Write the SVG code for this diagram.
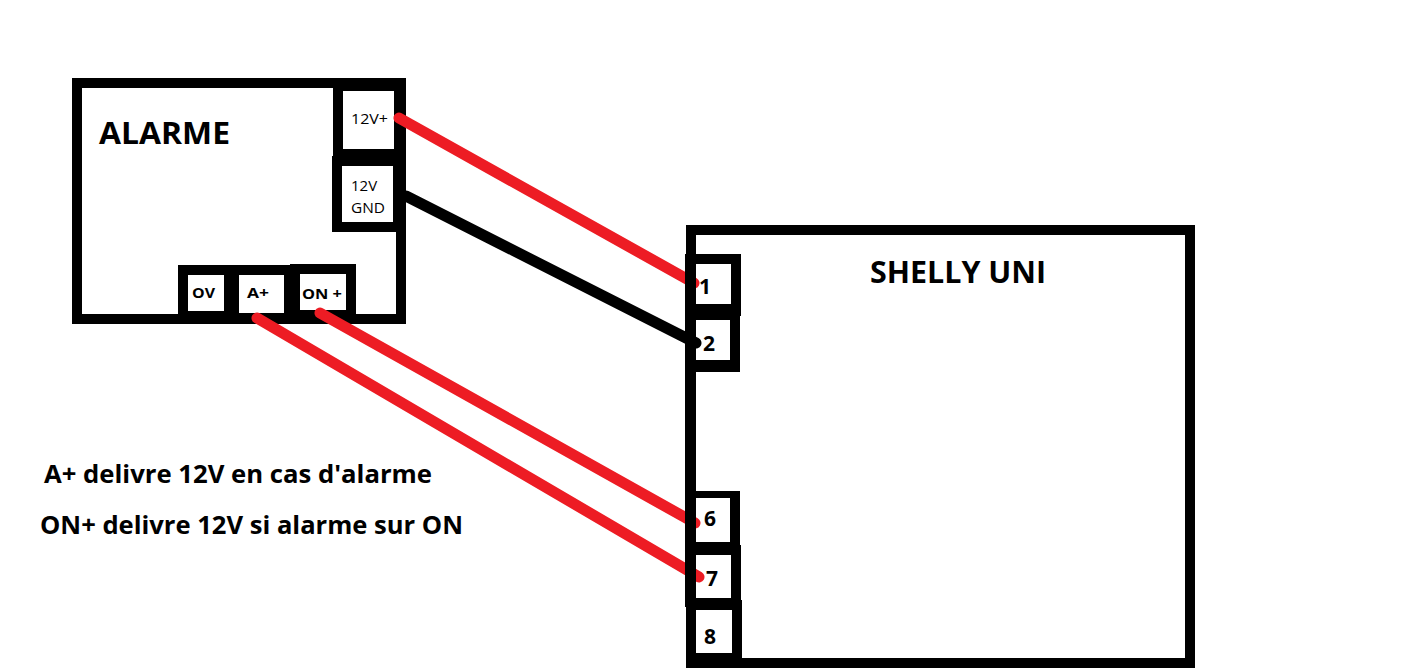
<svg xmlns="http://www.w3.org/2000/svg" width="1416" height="672" viewBox="0 0 1416 672">
<style>
.f{fill:#000;fill-rule:evenodd}
.w{fill:#fff}
text{font-family:"Open Sans","Noto Sans","Liberation Sans",sans-serif;fill:#000}
.b{font-weight:700}
.r{stroke:#ed1c24;stroke-width:11;stroke-linecap:round;fill:none}
.k{stroke:#000;stroke-width:11;stroke-linecap:round;fill:none}
</style>
<rect width="1416" height="672" fill="#fff"/>
<g id="alarme">
<rect class="f" x="72" y="78" width="334" height="246"/><rect class="w" x="82" y="88" width="314" height="226"/>
<text class="b" x="99" y="144" font-size="31" textLength="131" lengthAdjust="spacingAndGlyphs">ALARME</text>
</g>
<g id="shelly">
<rect class="f" x="686" y="225" width="509" height="443"/><rect class="w" x="696" y="235" width="489" height="423"/>
<text class="b" x="870" y="283" font-size="30" textLength="176" lengthAdjust="spacingAndGlyphs">SHELLY UNI</text>
</g>
<g id="t12vp"><rect class="f" x="333" y="78" width="73" height="78"/><rect class="w" x="343" y="91" width="51" height="58"/><text x="351" y="124" font-size="15" textLength="37" lengthAdjust="spacingAndGlyphs">12V+</text></g>
<g id="t12vg"><rect class="f" x="332" y="156" width="74" height="76"/><rect class="w" x="342" y="166" width="51" height="56"/><text x="351" y="191" font-size="15">12V</text><text x="351" y="213" font-size="15" textLength="34" lengthAdjust="spacingAndGlyphs">GND</text></g>
<g id="tov"><rect class="f" x="178" y="265" width="112" height="59"/><rect class="w" x="188" y="275" width="36" height="36"/><text class="b" x="192" y="298" font-size="14.5" textLength="23" lengthAdjust="spacingAndGlyphs">OV</text></g>
<g id="ta"><rect class="w" x="239" y="275" width="45" height="38"/><text class="b" x="247" y="298" font-size="14.5" textLength="22" lengthAdjust="spacingAndGlyphs">A+</text></g>
<g id="ton"><rect class="f" x="290" y="264" width="66" height="60"/><rect class="w" x="300" y="274" width="46" height="36"/><text class="b" x="302" y="299" font-size="14.5" textLength="40" lengthAdjust="spacingAndGlyphs">ON +</text></g>
<g id="p1"><rect class="f" x="696" y="254" width="45" height="62"/><rect class="w" x="696" y="264" width="35" height="40"/></g>
<g id="p2"><rect class="f" x="696" y="310" width="44" height="62"/><rect class="w" x="696" y="320" width="34" height="40"/></g>
<g id="p6"><rect class="f" x="696" y="491" width="44" height="60"/><rect class="w" x="696" y="498" width="34" height="44"/></g>
<g id="p7"><rect class="f" x="696" y="545" width="45" height="62"/><rect class="w" x="696" y="555" width="35" height="43"/></g>
<g id="p8"><rect class="f" x="696" y="600" width="46" height="68"/><rect class="w" x="696" y="610" width="36" height="43"/></g>
<g id="connectors">
<path class="r" d="M399 118L694 283"/>
<path class="k" d="M406 196L696 343"/>
<path class="r" d="M320 313L695 523"/>
<path class="r" d="M257 318L699 577"/>
</g>
<g id="shelly-edge"><rect class="f" x="685" y="254" width="11" height="353"/></g>
<g id="pin-labels">
<text class="b" x="699" y="294" font-size="21">1</text>
<text class="b" x="703" y="351" font-size="21">2</text>
<text class="b" x="704" y="526" font-size="21">6</text>
<text class="b" x="706" y="586" font-size="21">7</text>
<text class="b" x="704" y="644" font-size="21">8</text>
</g>
<g id="notes">
<text class="b" x="44" y="483" font-size="25.5" textLength="388" lengthAdjust="spacingAndGlyphs">A+ delivre 12V en cas d'alarme</text>
<text class="b" x="40" y="534" font-size="25.5" textLength="423" lengthAdjust="spacingAndGlyphs">ON+ delivre 12V si alarme sur ON</text>
</g>
</svg>
